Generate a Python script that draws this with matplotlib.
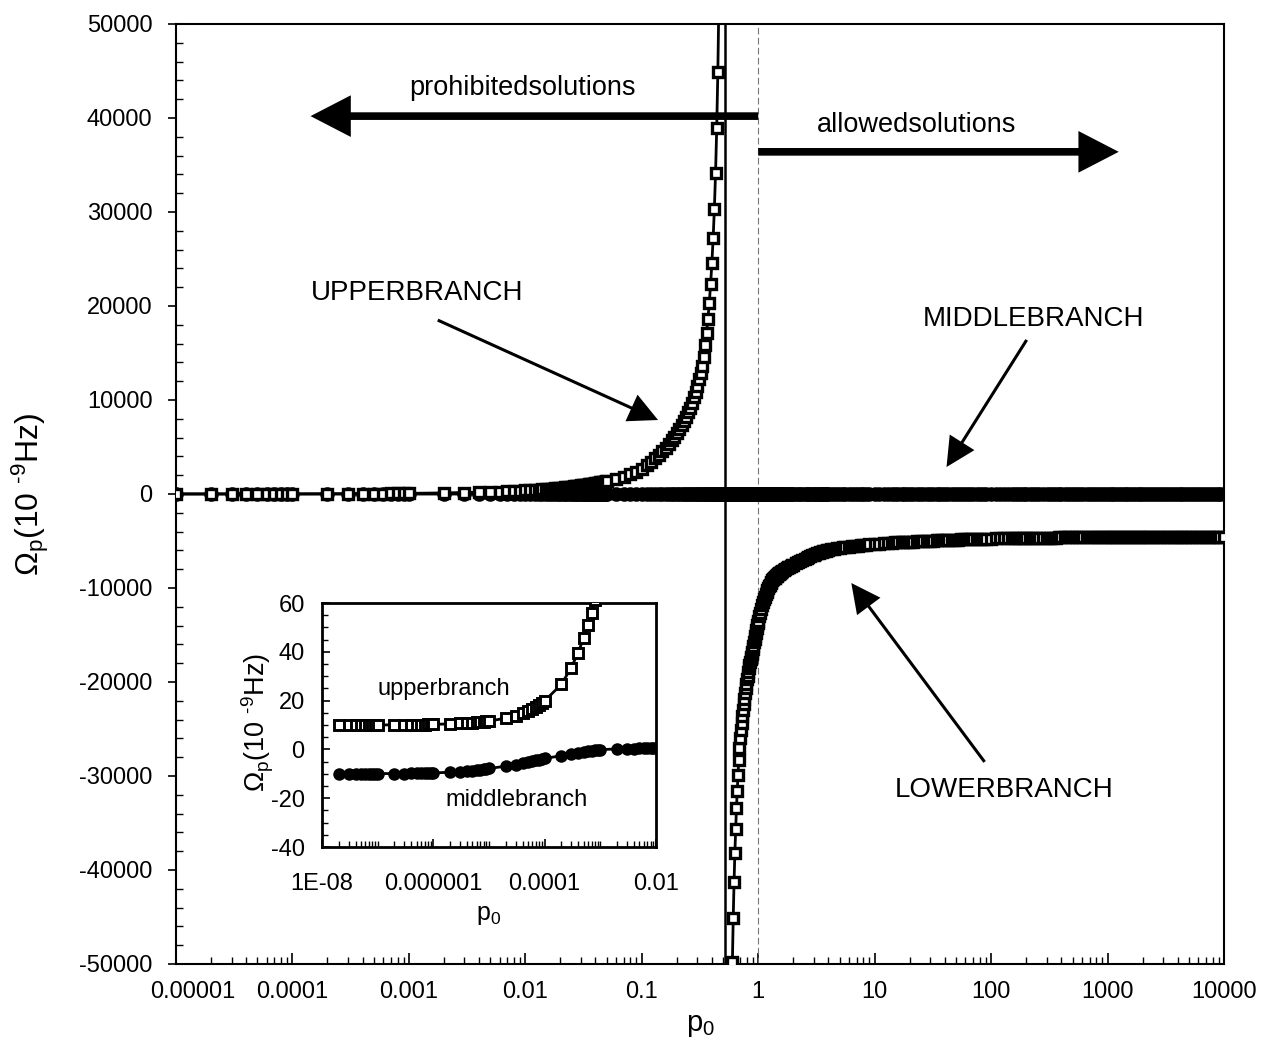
import matplotlib
matplotlib.use('Agg')
import matplotlib.pyplot as plt
from matplotlib.ticker import FixedLocator, FixedFormatter, LogLocator, MultipleLocator, NullFormatter
from matplotlib.transforms import ScaledTranslation

plt.rcParams['font.family'] = ['Liberation Sans', 'DejaVu Sans']
plt.rcParams['mathtext.fontset'] = 'custom'
plt.rcParams['mathtext.rm'] = 'Liberation Sans'
plt.rcParams['mathtext.it'] = 'Liberation Sans:italic'
plt.rcParams['mathtext.default'] = 'regular'
plt.rcParams['axes.unicode_minus'] = False

# p0 grid shared by the inset and the low-p part of the main plot
small_p = [2e-8, 3e-8, 4e-8, 5e-8, 6e-8, 7e-8, 8e-8, 9e-8, 1e-7,
           2e-7, 3e-7, 4e-7, 5e-7, 6e-7, 7e-7, 8e-7, 9e-7, 1e-6,
           2e-6, 3e-6, 4e-6, 5e-6, 6e-6, 7e-6, 8e-6, 9e-6, 1e-5,
           2e-5, 3e-5, 4e-5, 5e-5, 6e-5, 7e-5, 8e-5, 9e-5, 1e-4,
           2e-4, 3e-4, 4e-4, 5e-4, 6e-4, 7e-4, 8e-4, 9e-4, 1e-3,
           2e-3, 3e-3, 4e-3, 5e-3, 6e-3, 7e-3, 8e-3, 9e-3, 1e-2]
upper_small = [10.0, 10.0, 10.0, 10.0, 10.0, 10.0, 10.0, 10.0, 10.0,
               10.07, 10.10, 10.13, 10.15, 10.18, 10.20, 10.22, 10.24, 10.26,
               10.45, 10.62, 10.78, 10.93, 11.07, 11.21, 11.35, 11.48, 11.61,
               12.8, 13.8, 14.8, 15.7, 16.6, 17.5, 18.3, 19.1, 19.9,
               26.7, 33.5, 39.7, 45.6, 51.1, 56.1, 61.2, 66.1, 71.0,
               115, 156, 192, 228, 261, 294, 326, 357, 386]
middle_small = [-10.0, -10.0, -10.0, -10.0, -10.0, -10.0, -9.9, -9.9, -9.9,
                -9.9, -9.9, -9.8, -9.8, -9.8, -9.7, -9.7, -9.7, -9.6,
                -9.4, -9.2, -9.0, -8.8, -8.6, -8.4, -8.2, -8.0, -7.8,
                -6.9, -6.2, -5.7, -5.2, -4.8, -4.5, -4.2, -3.9, -3.7,
                -2.6, -1.9, -1.4, -1.0, -0.7, -0.5, -0.3, -0.2, -0.1,
                0.2, 0.3, 0.3, 0.4, 0.4, 0.4, 0.4, 0.4, 0.4]

# upper branch, p0 > 0.01
upper_p = [0.011, 0.012, 0.013, 0.014, 0.015, 0.016, 0.017, 0.018, 0.019, 0.020,
           0.021, 0.022, 0.023, 0.024, 0.025, 0.026, 0.027, 0.028, 0.029, 0.030,
           0.031, 0.032, 0.033, 0.034, 0.035, 0.036, 0.037, 0.038, 0.039, 0.040,
           0.041, 0.042, 0.043, 0.044, 0.045, 0.046, 0.047, 0.048, 0.049,
           0.05, 0.06, 0.07, 0.08, 0.09, 0.10, 0.11, 0.12, 0.13, 0.14, 0.15,
           0.16, 0.17, 0.18, 0.19, 0.20, 0.21, 0.22, 0.23, 0.24, 0.25, 0.26,
           0.27, 0.28, 0.29, 0.30, 0.31, 0.32, 0.33, 0.34, 0.35, 0.36, 0.37,
           0.38, 0.39, 0.40, 0.41, 0.42, 0.43, 0.44, 0.45, 0.46]
upper_om = [416, 445, 473, 501, 528, 556, 582, 609, 635, 661,
            686, 712, 737, 761, 786, 811, 835, 859, 883, 907,
            930, 953, 977, 1000, 1023, 1045, 1068, 1091, 1113, 1135,
            1157, 1179, 1201, 1224, 1245, 1267, 1288, 1310, 1331,
            1350, 1570, 1810, 2080, 2380, 2700, 3040, 3400, 3780, 4160, 4540,
            4920, 5310, 5700, 6100, 6500, 6900, 7320, 7760, 8220, 8700, 9200,
            9720, 10280, 10880, 11520, 12200, 12900, 13650, 14600, 15800, 17150, 18650,
            20350, 22300, 24600, 27200, 30300, 34100, 38900, 44900, 53000]

# middle branch only, between the two poles
gap_p = [0.47, 0.48, 0.49, 0.50, 0.51, 0.52, 0.53, 0.54, 0.55, 0.56, 0.57, 0.58, 0.59]

# lower branch
lower_p = [0.60, 0.61, 0.62, 0.63, 0.64, 0.65, 0.66, 0.67, 0.68, 0.69,
           0.70, 0.71, 0.72, 0.73, 0.74, 0.75, 0.76, 0.77, 0.78, 0.79,
           0.80, 0.81, 0.82, 0.83, 0.84, 0.85, 0.86, 0.87, 0.88, 0.89,
           0.90, 0.91, 0.92, 0.93, 0.94, 0.95, 0.96, 0.97, 0.98, 0.99, 1.00,
           1.02, 1.04, 1.06, 1.08, 1.10, 1.12, 1.14, 1.16, 1.18, 1.20,
           1.22, 1.24, 1.26, 1.28, 1.30, 1.32, 1.34, 1.36, 1.38, 1.40,
           1.42, 1.44, 1.46, 1.48, 1.50, 1.52, 1.54, 1.56, 1.58, 1.60,
           1.65, 1.70, 1.75, 1.80, 1.85, 1.90, 1.95, 2.0,
           2.1, 2.2, 2.3, 2.4, 2.5, 2.6, 2.7, 2.8, 2.9, 3.0,
           3.1, 3.2, 3.3, 3.4, 3.5, 3.6, 3.7, 3.8, 3.9, 4.0,
           4.25, 4.5, 4.75, 5.0, 5.3, 5.6, 6.0, 6.4, 6.8, 7.2, 7.6, 8.0, 8.5,
           9, 10, 11, 12, 13, 14, 15, 16, 17, 18, 19, 20, 21.5, 23, 24.5, 26,
           28, 30, 32, 34, 36, 38, 40, 43, 46, 49, 52, 55, 58, 62, 66, 70,
           75, 80, 85, 90, 100, 110, 120, 130, 140, 150, 160, 170, 180, 190,
           200, 215, 230, 245, 260, 280, 300, 320, 340, 360, 380, 400, 430,
           460, 490, 520, 550, 580, 620, 660, 700, 750, 800, 850, 900, 950,
           1000, 1060, 1120, 1180, 1250, 1320, 1400, 1480, 1560, 1650, 1750,
           1850, 1950, 2070, 2200, 2330, 2470, 2620, 2780, 2950, 3120, 3300,
           3500, 3700, 3920, 4150, 4400, 4660, 4940, 5230, 5540, 5870, 6220,
           6590, 6980, 7400, 7840, 8300, 8800, 9320, 10000]
lower_om = [-49800, -45100, -41300, -38200, -35600, -33400, -31600, -29900, -28300, -27000,
            -26010, -25120, -24320, -23600, -22940, -22340, -21780, -21195, -20674, -20186,
            -19733, -19313, -18921, -18554, -18209, -17886, -17583, -17297, -17024, -16769,
            -16450, -16150, -15765, -15429, -15109, -14805, -14518, -14241, -13975, -13748, -13482,
            -13027, -12609, -12218, -11855, -11519, -11210, -10943, -10691, -10457, -10235,
            -10025, -9827, -9640, -9470, -9310, -9160, -9050, -8965, -8893, -8817,
            -8745, -8675, -8609, -8546, -8484, -8427, -8370, -8316, -8265, -8216,
            -8099, -7991, -7891, -7800, -7718, -7641, -7567, -7501,
            -7379, -7270, -7125, -6995, -6879, -6773, -6678, -6590, -6510, -6437,
            -6369, -6306, -6248, -6194, -6144, -6096, -6052, -6011, -5971, -5935,
            -5850, -5806, -5767, -5729, -5689, -5652, -5606, -5564, -5527, -5493, -5462, -5433, -5399,
            -5368, -5314, -5267, -5232, -5205, -5180, -5158, -5139, -5120, -5104, -5089, -5075, -5056, -5038, -5023, -5008,
            -4991, -4976, -4961, -4946, -4932, -4919, -4907, -4891, -4876, -4863, -4851, -4840, -4830, -4817, -4806, -4796,
            -4784, -4773, -4764, -4755, -4739, -4726, -4715, -4707, -4700, -4693, -4687, -4682, -4677, -4673,
            -4668, -4663, -4658, -4653, -4649, -4644, -4639, -4635, -4631, -4628, -4624, -4621, -4617,
            -4614, -4611, -4608, -4605, -4602, -4599, -4596, -4594, -4591, -4588, -4586, -4584, -4582,
            -4580, -4578, -4577, -4575, -4574, -4572, -4571, -4570, -4568, -4567, -4566,
            -4565, -4563, -4562, -4561, -4560, -4559, -4558, -4557, -4556, -4555, -4554,
            -4553, -4552, -4551, -4550, -4549, -4549, -4548, -4547, -4546, -4546, -4545,
            -4544, -4544, -4543, -4542, -4542, -4541, -4541, -4540]

# middle branch above 0.01 stays at ~0.4 (x10^-9 Hz)
middle_level = 0.4
p_pole = 0.52

x_ticks = [1e-5, 1e-4, 1e-3, 1e-2, 1e-1, 1, 10, 100, 1000, 10000]
x_labels = ['0.00001', '0.0001', '0.001', '0.01', '0.1', '1', '10', '100', '1000', '10000']
y_ticks = [-50000, -40000, -30000, -20000, -10000, 0, 10000, 20000, 30000, 40000, 50000]
in_x_ticks = [1e-8, 1e-6, 1e-4, 1e-2]
in_x_labels = ['1E-08', '0.000001', '0.0001', '0.01']
in_y_ticks = [-40, -20, 0, 20, 40, 60]

main_up_p = small_p + upper_p
main_up_om = upper_small + upper_om
main_mid_p = small_p + upper_p + gap_p + lower_p
main_mid_om = middle_small + [middle_level] * (len(upper_p) + len(gap_p) + len(lower_p))

ylab = r'$\Omega_p$(10 $^{‐9}$Hz)'

fig = plt.figure(figsize=(12.63, 10.47), dpi=100)
ax = fig.add_axes([176 / 1263, 1 - 964 / 1047, 1048 / 1263, 940 / 1047])
ax.set_xscale('log')
ax.set_xlim(1e-5, 1e4)
ax.set_ylim(-50000, 50000)

ax.axvline(p_pole, color='black', lw=1.8, zorder=2)
ax.axvline(1.0, color='#777777', lw=0.8, ls=(0, (6, 3)), zorder=2)

sq_main = dict(marker='s', color='black', mfc='white', mec='black', ms=6.6, mew=2.4, lw=2.0)
sq_ins = dict(marker='s', color='black', mfc='white', mec='black', ms=6.5, mew=2.1, lw=2.0)
ax.plot(main_mid_p, main_mid_om, '-o', color='black', ms=10.5, mew=0, lw=2.0, zorder=3)
ax.plot(main_up_p, main_up_om, zorder=4, **sq_main)
ax.plot(lower_p, lower_om, zorder=4, **sq_main)

ax.xaxis.set_major_locator(FixedLocator(x_ticks))
ax.xaxis.set_major_formatter(FixedFormatter(x_labels))
ax.xaxis.set_minor_locator(LogLocator(base=10, subs=[2, 3, 4, 5, 6, 7, 8, 9], numticks=20))
ax.xaxis.set_minor_formatter(NullFormatter())
ax.yaxis.set_major_locator(FixedLocator(y_ticks))
ax.yaxis.set_minor_locator(MultipleLocator(2000))
ax.tick_params(axis='x', which='major', direction='in', length=8, width=1.2, labelsize=17, pad=12)
ax.tick_params(axis='x', which='minor', direction='in', length=5, width=1.0)
ax.tick_params(axis='y', which='major', direction='out', length=6, width=1.2, labelsize=17, pad=11)
ax.tick_params(axis='y', which='minor', direction='in', length=5, width=1.0)
for s in ax.spines.values():
    s.set_linewidth(1.5)

# first x label sits a little to the right, as in the original
fig.canvas.draw()
first = ax.xaxis.get_majorticklabels()[0]
first.set_transform(first.get_transform() + ScaledTranslation(0.17, 0, fig.dpi_scale_trans))

fig.text(30 / 1263, 1 - 494 / 1047, ylab, rotation=90, ha='center', va='center', fontsize=23)
fig.text(700 / 1263, 1 - 1025 / 1047, r'p$_0$', ha='center', va='center', fontsize=21)

# annotations
ax.text(9.5e-3, 43200, 'prohibitedsolutions', ha='center', va='center', fontsize=19.5)
ax.text(22.8, 39260, 'allowedsolutions', ha='center', va='center', fontsize=19.5)
ax.text(1.17e-3, 21390, 'UPPERBRANCH', ha='center', va='center', fontsize=20)
ax.text(231, 18620, 'MIDDLEBRANCH', ha='center', va='center', fontsize=20)
ax.text(130, -31500, 'LOWERBRANCH', ha='center', va='center', fontsize=20)

big = dict(arrowstyle='simple,head_length=29,head_width=30,tail_width=5.5',
           color='black', lw=0, shrinkA=0, shrinkB=0, mutation_scale=1)
thin = dict(arrowstyle='simple,head_length=21,head_width=21,tail_width=2.2',
            color='black', lw=0, shrinkA=0, shrinkB=0, mutation_scale=1)
ax.annotate('', xy=(1.43e-4, 40200), xytext=(1.0, 40200), arrowprops=big)
ax.annotate('', xy=(1247, 36400), xytext=(1.0, 36400), arrowprops=big)
ax.annotate('', xy=(0.138, 7870), xytext=(1.77e-3, 18500), arrowprops=thin)
ax.annotate('', xy=(41.4, 2870), xytext=(202, 16390), arrowprops=thin)
ax.annotate('', xy=(6.3, -9470), xytext=(87.9, -28500), arrowprops=thin)

# inset
ins = fig.add_axes([322 / 1263, 1 - 847 / 1047, 334 / 1263, 244 / 1047])
ins.set_xscale('log')
ins.set_xlim(1e-8, 1e-2)
ins.set_ylim(-40, 60)
ins.plot(small_p, middle_small, '-o', color='black', ms=9, mew=0, lw=2.0, zorder=3)
ins.plot(small_p, upper_small, zorder=4, **sq_ins)
ins.xaxis.set_major_locator(FixedLocator(in_x_ticks))
ins.xaxis.set_major_formatter(FixedFormatter(in_x_labels))
ins.xaxis.set_minor_locator(LogLocator(base=10, subs=[1, 2, 3, 4, 5, 6, 7, 8, 9], numticks=20))
ins.xaxis.set_minor_formatter(NullFormatter())
ins.yaxis.set_major_locator(FixedLocator(in_y_ticks))
ins.yaxis.set_minor_locator(MultipleLocator(5))
ins.tick_params(axis='both', which='major', direction='in', length=6, width=1.2, labelsize=17)
ins.tick_params(axis='x', which='major', pad=19)
ins.tick_params(axis='y', which='major', pad=12.5)
ins.tick_params(axis='both', which='minor', direction='in', length=4, width=1.0)
for s in ins.spines.values():
    s.set_linewidth(2.0)
ins.text(1.52e-6, 24.7, 'upperbranch', ha='center', va='center', fontsize=17)
ins.text(3.08e-5, -20.8, 'middlebranch', ha='center', va='center', fontsize=17)
fig.text(258 / 1263, 1 - 722 / 1047, ylab, rotation=90, ha='center', va='center', fontsize=19.5)
fig.text(489 / 1263, 1 - 915 / 1047, r'p$_0$', ha='center', va='center', fontsize=18)

fig.savefig('out.png', dpi=100)
